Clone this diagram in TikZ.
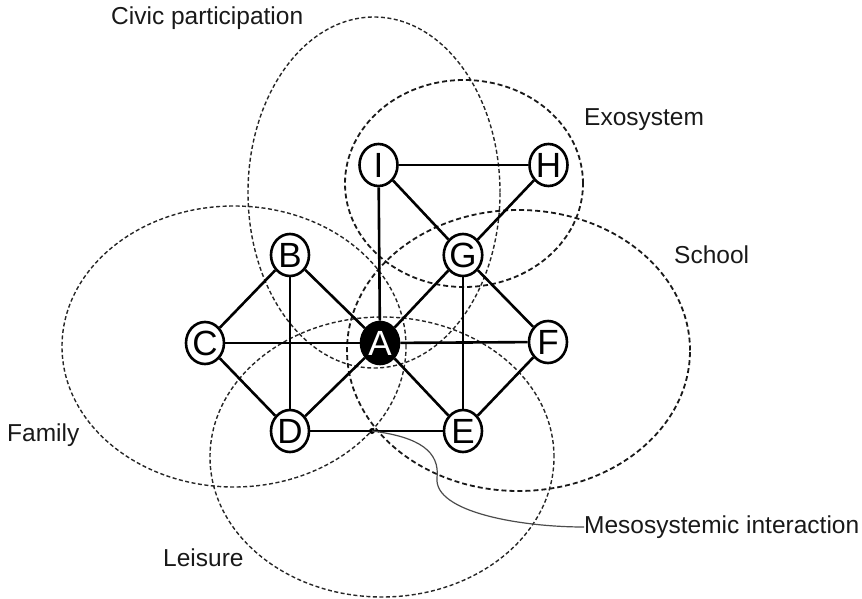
\documentclass[tikz,border=0pt]{standalone}
\usepackage{fontspec}
\setmainfont{Liberation Sans}
\usetikzlibrary{shapes.geometric}
\begin{document}
\begin{tikzpicture}[x=1pt,y=-1pt,
  actor/.style={draw=black,line width=2.6pt,ellipse,minimum width=38pt,minimum height=42pt,inner sep=0pt,fill=white,font=\fontsize{35}{35}\selectfont},
  link/.style={line width=2.6pt,black},
  finezone/.style={line width=1.4pt,dash pattern=on 4pt off 2.5pt,black!85},
  boldzone/.style={line width=1.8pt,dash pattern=on 5pt off 3pt,black!90},
  lbl/.style={font=\fontsize{24.5}{24.5}\selectfont,inner sep=0pt,text=black!90}]
\useasboundingbox (0,0) rectangle (862,599);
% zones
\draw[finezone] (374,192.5) ellipse [x radius=126pt, y radius=175.5pt];
\draw[boldzone] (464,183.5) ellipse [x radius=119pt, y radius=103.5pt];
\draw[boldzone] (518.5,350.5) ellipse [x radius=171.5pt, y radius=140.5pt];
\draw[finezone] (234,346.5) ellipse [x radius=172pt, y radius=140.5pt];
\draw[finezone] (382,457) ellipse [x radius=172pt, y radius=140pt];
% nodes
\node[actor] (I) at (378.5,165) {I};
\node[actor] (H) at (548.5,165) {H};
\node[actor] (G) at (463,255) {G};
\node[actor] (B) at (290,255) {B};
\node[actor] (C) at (205,343) {C};
\node[actor,fill=black,text=white] (A) at (380,343) {A};
\node[actor] (F) at (548,342) {F};
\node[actor] (D) at (290,431) {D};
\node[actor] (E) at (463,431) {E};
% links
\draw[link,line width=2.2pt] (I) -- (H);
\draw[link] (I) -- (A);
\draw[link] (I) -- (G);
\draw[link] (H) -- (G);
\draw[link] (G) -- (A);
\draw[link] (G) -- (E);
\draw[link] (G) -- (F);
\draw[link] (B) -- (C);
\draw[link] (B) -- (D);
\draw[link] (B) -- (A);
\draw[link] (C) -- (A);
\draw[link] (A) -- (F);
\draw[link] (C) -- (D);
\draw[link] (D) -- (A);
\draw[link] (D) -- (E);
\draw[link] (A) -- (E);
\draw[link] (E) -- (F);
% labels
\node[lbl,anchor=west] (civic) at (111,18) {Civic participation};
\node[lbl,anchor=west] (exo) at (584,120) {Exosystem};
\node[lbl,anchor=west] (school) at (674,255) {School};
\node[lbl,anchor=west] (family) at (7,435) {Family};
\node[lbl,anchor=west] (leisure) at (163,558) {Leisure};
\node[lbl,anchor=west] (meso) at (584,527) {Mesosystemic interaction};
% mesosystemic interaction point
\coordinate (mp) at (372,431);
\fill[black] (mp) circle (3pt);
\draw[black!70,line width=1.2pt] (mp) .. controls (420,437) and (440,452) .. (437,478)
  .. controls (434,512) and (520,527) .. (meso.west);
\end{tikzpicture}
\end{document}
